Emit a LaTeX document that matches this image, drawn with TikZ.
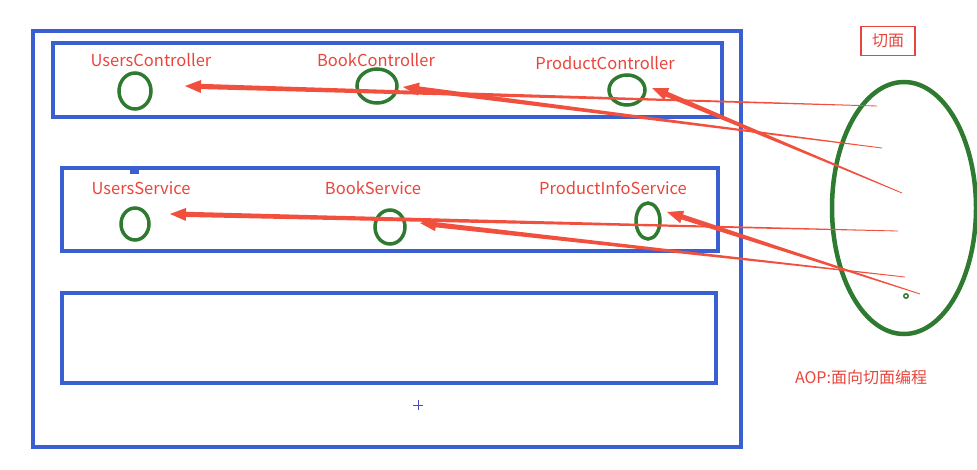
\documentclass[tikz,border=0pt]{standalone}
\usepackage{fontspec}
\setmainfont{Noto Sans CJK SC}
\usetikzlibrary{calc}
\definecolor{boxblue}{HTML}{3A5FD0}
\definecolor{ringgreen}{HTML}{2E7A30}
\definecolor{txtred}{HTML}{E8453C}
\definecolor{arrred}{HTML}{F2503E}
\tikzset{
  layer/.style={draw=boxblue, line width=3.5pt},
  lbl/.style={text=txtred, font=\fontsize{16.5}{18}\selectfont, inner sep=0pt},
}
\newcommand\taperarrow[2]{%
  \fill[arrred]
    ($(#1)!0.4pt!90:(#2)$) --
    ($($(#2)!16pt!(#1)$)!2.6pt!-90:(#1)$) --
    ($($(#2)!16pt!(#1)$)!6.5pt!-90:(#1)$) --
    (#2) --
    ($($(#2)!16pt!(#1)$)!6.5pt!90:(#1)$) --
    ($($(#2)!16pt!(#1)$)!2.6pt!90:(#1)$) --
    ($(#1)!0.4pt!-90:(#2)$) -- cycle;}
\begin{document}
\begin{tikzpicture}[x=1pt,y=-1pt]
\useasboundingbox (0,0) rectangle (977,469);
% layers
\draw[layer] (33,31) rectangle (741,447);
\draw[layer] (53,43) rectangle (722,117);
\draw[layer] (62,168) rectangle (718,251);
\draw[layer] (62,293) rectangle (716,383);
\fill[boxblue] (130,166) rectangle (139,174);
% labels
\node[lbl] (ucl) at (151,60) {UsersController};
\node[lbl] (bcl) at (376,60) {BookController};
\node[lbl] (pcl) at (605,63) {ProductController};
\node[lbl] (usl) at (141,188) {UsersService};
\node[lbl] (bsl) at (373,188) {BookService};
\node[lbl] (psl) at (613,188) {ProductInfoService};
% rings
\draw[draw=ringgreen, line width=3.5pt] (135,91) ellipse [x radius=16, y radius=18];
\draw[draw=ringgreen, line width=3.5pt] (377,86) ellipse [x radius=20, y radius=17];
\draw[draw=ringgreen, line width=3.5pt] (627,90) ellipse [x radius=18, y radius=15];
\draw[draw=ringgreen, line width=3.5pt] (135,224) ellipse [x radius=14, y radius=16];
\draw[draw=ringgreen, line width=3.5pt] (390,227) ellipse [x radius=15, y radius=17];
\draw[draw=ringgreen, line width=3.5pt] (648,221) ellipse [x radius=12, y radius=18];
% aspect
\draw[draw=ringgreen, line width=4.5pt] (904,208) ellipse [x radius=72, y radius=126];
\draw[draw=ringgreen, line width=1.5pt] (906,296) circle (2.2);
\node[draw=txtred, line width=1.2pt, text=txtred, font=\fontsize{16}{18}\selectfont,
  minimum width=54pt, minimum height=29pt, inner sep=0pt] (aspect) at (888,41) {切面};
\node[text=txtred, font=\fontsize{16}{18}\selectfont, inner sep=0pt] (aop) at (861,377) {AOP:面向切面编程};
% arrow ends
\coordinate (ucT) at (185,86);  \coordinate (ucS) at (877,106);
\coordinate (bcT) at (403,87);  \coordinate (bcS) at (882,148);
\coordinate (pcT) at (652,88);  \coordinate (pcS) at (902,193);
\coordinate (usT) at (170,214); \coordinate (usS) at (898,231);
\coordinate (bsT) at (420,223); \coordinate (bsS) at (905,277);
\coordinate (psT) at (667,212); \coordinate (psS) at (920,294);
\taperarrow{ucS}{ucT}
\taperarrow{bcS}{bcT}
\taperarrow{pcS}{pcT}
\taperarrow{usS}{usT}
\taperarrow{bsS}{bsT}
\taperarrow{psS}{psT}
% cursor mark
\draw[draw=gray!60!blue, line width=0.9pt] (413,405) -- (423,405) (418,400) -- (418,410);
\end{tikzpicture}
\end{document}
